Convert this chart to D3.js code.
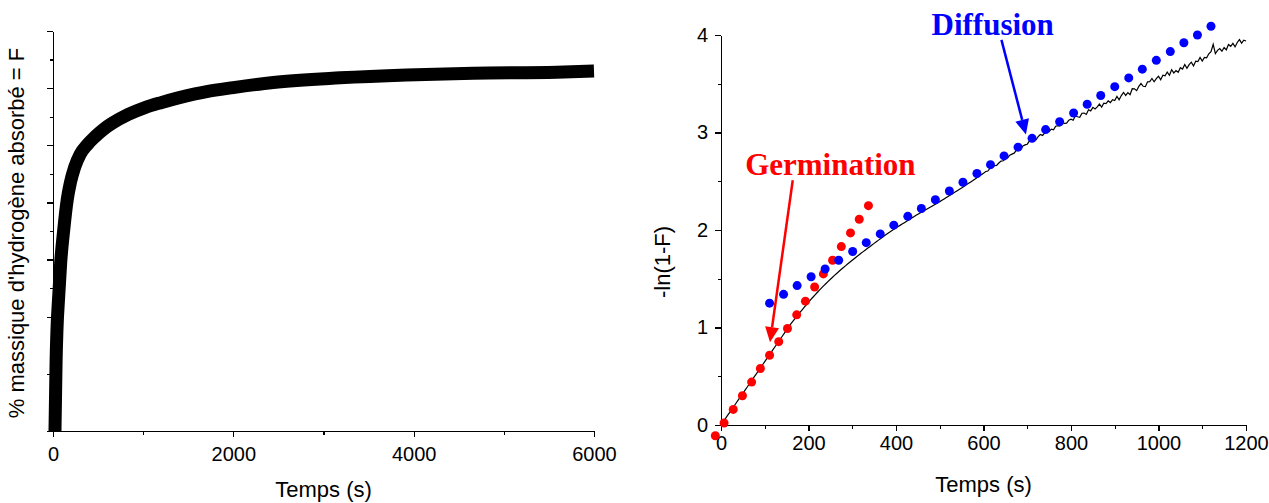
<!DOCTYPE html>
<html>
<head>
<meta charset="utf-8">
<script src="https://cdn.jsdelivr.net/npm/d3@7"></script>
<style>
  body { margin: 0; background: #fff; }
  svg { display: block; }
  .axis path, .axis line { stroke: #000; stroke-width: 1.3; shape-rendering: crispEdges; }
  .axis text { font-family: Arial, "Liberation Sans", sans-serif; font-size: 20px; fill: #000; }
  .axis-title { font-family: Arial, "Liberation Sans", sans-serif; font-size: 22px; fill: #000; }
  .note { font-family: "Times New Roman", "Liberation Serif", serif; font-weight: bold; font-size: 31px; }
</style>
</head>
<body>
<svg id="chart" width="1269" height="503"></svg>
<script>
// Left panel: absorbed hydrogen vs time (curve sampled from the plot)
const absTime = [22, 28, 34, 44, 63, 85, 119, 159, 192, 241, 300, 380, 466, 560, 651, 835, 1020, 1206, 1390, 1575,
  1704, 2000, 2443, 3183, 3922, 4661, 5586, 6000];
const absValue = [0, 0.60, 1.19, 1.77, 2.35, 2.94, 3.52, 4.06, 4.34, 4.62, 4.84, 5.01, 5.15, 5.28, 5.38, 5.54, 5.66, 5.75, 5.83, 5.90,
  5.94, 6.01, 6.10, 6.18, 6.23, 6.26, 6.28, 6.30];
const absXTicks = [0, 2000, 4000, 6000];
const absXMinor = [1000, 3000, 5000];
const absYTicks = [0, 1, 2, 3, 4, 5, 6, 7];
const absYMinor = [0.5, 1.5, 2.5, 3.5, 4.5, 5.5, 6.5];

// Right panel: -ln(1-F), one reading every 5 s from 0 to 1200 s
const lnStep = 5;
const lnValue = [
  0.000, 0.033, 0.065, 0.098, 0.130, 0.163, 0.195, 0.228, 0.260, 0.293,
  0.325, 0.358, 0.390, 0.423, 0.455, 0.488, 0.520, 0.553, 0.585, 0.618,
  0.650, 0.683, 0.715, 0.748, 0.780, 0.813, 0.845, 0.878, 0.910, 0.943,
  0.975, 1.008, 1.040, 1.069, 1.097, 1.125, 1.152, 1.179, 1.206, 1.233,
  1.259, 1.285, 1.310, 1.335, 1.359, 1.383, 1.406, 1.429, 1.451, 1.473,
  1.495, 1.516, 1.537, 1.557, 1.577, 1.597, 1.616, 1.635, 1.654, 1.672,
  1.690, 1.708, 1.726, 1.743, 1.761, 1.778, 1.795, 1.812, 1.829, 1.846,
  1.863, 1.880, 1.896, 1.913, 1.929, 1.945, 1.961, 1.976, 1.992, 2.007,
  2.022, 2.036, 2.050, 2.064, 2.078, 2.092, 2.106, 2.120, 2.134, 2.148,
  2.161, 2.174, 2.187, 2.200, 2.213, 2.226, 2.239, 2.252, 2.265, 2.278,
  2.291, 2.305, 2.319, 2.333, 2.347, 2.361, 2.375, 2.389, 2.403, 2.417,
  2.431, 2.446, 2.461, 2.476, 2.491, 2.506, 2.521, 2.536, 2.551, 2.566,
  2.581, 2.600, 2.605, 2.634, 2.639, 2.661, 2.663, 2.687, 2.707, 2.710,
  2.733, 2.739, 2.767, 2.778, 2.788, 2.817, 2.821, 2.834, 2.861, 2.873,
  2.880, 2.914, 2.911, 2.936, 2.925, 2.958, 2.979, 2.970, 2.996, 3.022,
  3.011, 3.034, 3.028, 3.064, 3.069, 3.068, 3.101, 3.094, 3.096, 3.127,
  3.137, 3.126, 3.172, 3.161, 3.156, 3.198, 3.200, 3.185, 3.233, 3.222,
  3.258, 3.241, 3.262, 3.292, 3.260, 3.301, 3.296, 3.325, 3.307, 3.337,
  3.328, 3.369, 3.335, 3.379, 3.411, 3.380, 3.409, 3.387, 3.449, 3.448,
  3.429, 3.473, 3.502, 3.474, 3.470, 3.520, 3.522, 3.554, 3.520, 3.552,
  3.578, 3.542, 3.587, 3.581, 3.620, 3.587, 3.644, 3.611, 3.635, 3.617,
  3.665, 3.651, 3.697, 3.659, 3.696, 3.721, 3.683, 3.732, 3.727, 3.770,
  3.732, 3.770, 3.766, 3.807, 3.830, 3.905, 3.810, 3.842, 3.861, 3.834,
  3.872, 3.848, 3.902, 3.884, 3.914, 3.878, 3.923, 3.953, 3.917, 3.947,
  3.938,
];

// Germination model points (red) and diffusion model points (blue)
const germTime = [-13, 7, 28, 49, 70, 90, 111, 132, 152, 173, 193, 214, 234, 255, 275, 296, 316, 337];
const germValue = [-0.11, 0.02, 0.16, 0.30, 0.44, 0.58, 0.715, 0.855, 0.99, 1.13, 1.27, 1.415, 1.55, 1.69, 1.83, 1.97, 2.11, 2.25];
const diffTime = [111, 143, 174, 206, 238, 269, 301, 332, 364, 395, 427, 458, 490, 522, 553, 585, 616,
  647, 679, 711, 742, 774, 806, 837, 868, 900, 932, 963, 995, 1027, 1058, 1089, 1120];
const diffValue = [1.25, 1.34, 1.43, 1.52, 1.60, 1.69, 1.78, 1.87, 1.96, 2.05, 2.14, 2.22, 2.31, 2.40, 2.49, 2.58, 2.67,
  2.76, 2.85, 2.94, 3.03, 3.11, 3.20, 3.29, 3.38, 3.47, 3.56, 3.65, 3.74, 3.83, 3.92, 4.00, 4.09];
const lnXTicks = [0, 200, 400, 600, 800, 1000, 1200];
const lnXMinor = [100, 300, 500, 700, 900, 1100];
const lnYTicks = [0, 1, 2, 3, 4];
const lnYMinor = [0.5, 1.5, 2.5, 3.5];

// Annotations, in data units of the right panel
const notes = [
  { text: 'Germination', color: '#ff0000', at: [250, 2.56], from: [164, 2.51], to: [112, 0.85] },
  { text: 'Diffusion', color: '#0000ff', at: [621, 4.0], from: [641, 3.95], to: [697, 2.98] },
];

const svg = d3.select('#chart');

function drawAxes(g, x, y, opts) {
  g.append('g')
      .attr('class', 'axis')
      .attr('transform', `translate(0,${y.range()[0]})`)
      .call(d3.axisBottom(x).tickValues(opts.xTicks).tickSize(6).tickSizeOuter(0).tickPadding(opts.xPad)
        .tickFormat(d3.format('d')));
  g.append('g')
      .attr('class', 'axis')
      .attr('transform', `translate(0,${y.range()[0]})`)
      .call(d3.axisBottom(x).tickValues(opts.xMinor).tickSize(3.5).tickSizeOuter(0).tickFormat(''))
      .select('.domain').remove();

  g.append('g')
      .attr('class', 'axis')
      .attr('transform', `translate(${x.range()[0]},0)`)
      .call(d3.axisLeft(y).tickValues(opts.yTicks).tickSize(6).tickSizeOuter(0).tickPadding(7)
        .tickFormat(opts.yLabels ? d3.format('d') : ''));
  g.append('g')
      .attr('class', 'axis')
      .attr('transform', `translate(${x.range()[0]},0)`)
      .call(d3.axisLeft(y).tickValues(opts.yMinor).tickSize(3.5).tickSizeOuter(0).tickFormat(''))
      .select('.domain').remove();

  const [x0, x1] = x.range();
  g.append('text')
      .attr('class', 'axis-title')
      .attr('x', (x0 + x1) / 2)
      .attr('y', opts.xTitleY)
      .attr('text-anchor', 'middle')
      .text('Temps (s)');

  g.append('text')
      .attr('class', 'axis-title')
      .attr('transform', `translate(${opts.yTitleX},${opts.yTitleMid}) rotate(-90)`)
      .attr('text-anchor', 'middle')
      .text(opts.yTitle);
}

// ---- left panel
const xL = d3.scaleLinear().domain([0, 6000]).range([53, 594]);
const yL = d3.scaleLinear().domain([0, 7]).range([431, 31]);
const left = svg.append('g');

drawAxes(left, xL, yL, {
  xTicks: absXTicks, xMinor: absXMinor, yTicks: absYTicks, yMinor: absYMinor,
  xPad: 10, yLabels: false, xTitleY: 497,
  yTitle: '% massique d\'hydrogène absorbé = F', yTitleX: 24, yTitleMid: 233,
});

left.append('path')
    .datum(d3.zip(absTime, absValue))
    .attr('fill', 'none')
    .attr('stroke', '#000')
    .attr('stroke-width', 13)
    .attr('d', d3.line()
      .x((d) => xL(d[0]))
      .y((d) => yL(d[1]))
      .curve(d3.curveMonotoneX));

// ---- right panel
const xR = d3.scaleLinear().domain([0, 1200]).range([721, 1246]);
const yR = d3.scaleLinear().domain([0, 4]).range([425, 35]);
const right = svg.append('g');

drawAxes(right, xR, yR, {
  xTicks: lnXTicks, xMinor: lnXMinor, yTicks: lnYTicks, yMinor: lnYMinor,
  xPad: 5, yLabels: true, xTitleY: 492,
  yTitle: '-ln(1-F)', yTitleX: 670, yTitleMid: 262,
});

right.append('path')
    .datum(lnValue)
    .attr('fill', 'none')
    .attr('stroke', '#000')
    .attr('stroke-width', 1.2)
    .attr('d', d3.line()
      .x((d, i) => xR(i * lnStep))
      .y((d) => yR(d)));

right.append('g')
  .selectAll('circle')
  .data(d3.zip(germTime, germValue))
  .join('circle')
    .attr('cx', (d) => xR(d[0]))
    .attr('cy', (d) => yR(d[1]))
    .attr('r', 4.5)
    .attr('fill', '#ff0000');

right.append('g')
  .selectAll('circle')
  .data(d3.zip(diffTime, diffValue))
  .join('circle')
    .attr('cx', (d) => xR(d[0]))
    .attr('cy', (d) => yR(d[1]))
    .attr('r', 4.5)
    .attr('fill', '#0000ff');

// labels with arrows
notes.forEach((n) => {
  const g = right.append('g');
  const [sx, sy] = [xR(n.from[0]), yR(n.from[1])];
  const [tx, ty] = [xR(n.to[0]), yR(n.to[1])];
  const len = Math.hypot(tx - sx, ty - sy);
  const ux = (tx - sx) / len;
  const uy = (ty - sy) / len;
  const head = 15;
  const half = 7;
  const bx = tx - ux * head;
  const by = ty - uy * head;

  g.append('text')
      .attr('class', 'note')
      .attr('x', xR(n.at[0]))
      .attr('y', yR(n.at[1]))
      .attr('text-anchor', 'middle')
      .attr('fill', n.color)
      .text(n.text);

  g.append('line')
      .attr('x1', sx).attr('y1', sy)
      .attr('x2', bx).attr('y2', by)
      .attr('stroke', n.color)
      .attr('stroke-width', 2.5);

  g.append('path')
      .attr('d', `M${tx},${ty}L${bx - uy * half},${by + ux * half}L${bx + uy * half},${by - ux * half}Z`)
      .attr('fill', n.color);
});
</script>
</body>
</html>
